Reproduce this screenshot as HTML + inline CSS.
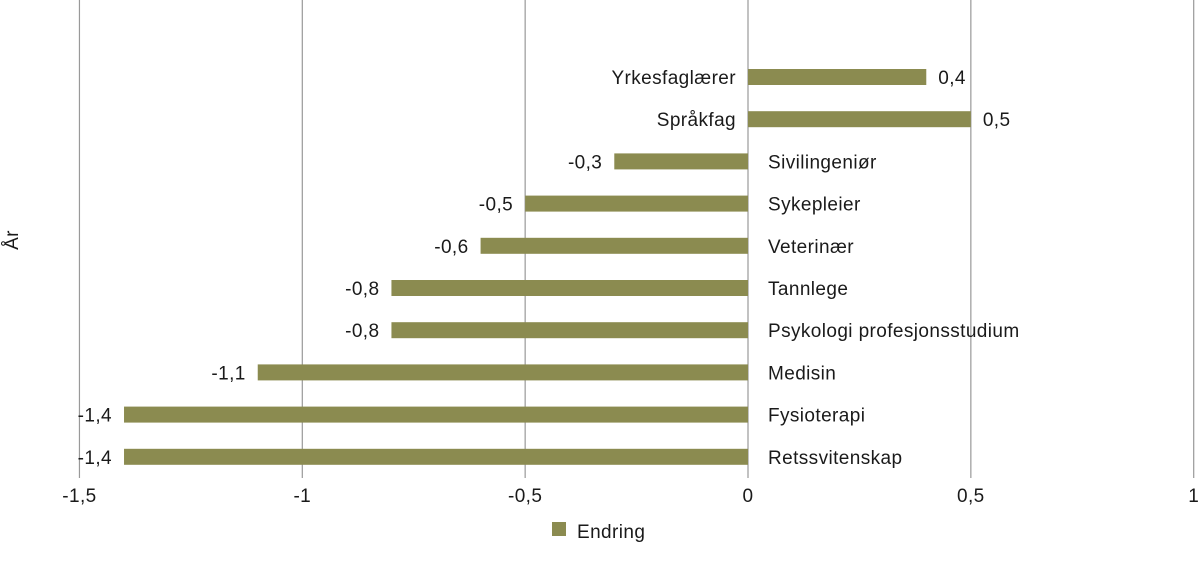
<!DOCTYPE html>
<html><head><meta charset="utf-8"><style>
body{margin:0;background:#fff;}
svg text{font-family:"Liberation Sans",sans-serif;fill:#1a1a1a;letter-spacing:0.4px;}
</style></head><body>
<svg width="1200" height="558" id="chart">
<text x="18" y="240" font-size="19" transform="rotate(-90 18 240)" text-anchor="middle">År</text>
<g id="grid"></g><g id="bars"></g><g id="labels"></g>
<g>
<rect x="552" y="522" width="14" height="14" fill="#8b8b50"/>
<text x="577" y="538" font-size="19">Endring</text>
</g>
</svg>
<script>
const categories=["Yrkesfaglærer","Språkfag","Sivilingeniør","Sykepleier","Veterinær","Tannlege","Psykologi profesjonsstudium","Medisin","Fysioterapi","Retssvitenskap"];
const values=[0.4,0.5,-0.3,-0.5,-0.6,-0.8,-0.8,-1.1,-1.4,-1.4];
const valueLabels=["0,4","0,5","-0,3","-0,5","-0,6","-0,8","-0,8","-1,1","-1,4","-1,4"];
const ticks=[-1.5,-1,-0.5,0,0.5,1];
const tickLabels=["-1,5","-1","-0,5","0","0,5","1"];
const NS="http://www.w3.org/2000/svg";
const x=v=>748+v*445.7;
const y=i=>77+i*42.2;
function mk(t,a,p){const e=document.createElementNS(NS,t);for(const k in a)e.setAttribute(k,a[k]);document.getElementById(p).appendChild(e);return e;}
ticks.forEach((t,i)=>{
 const l=mk('line',{x1:x(t),x2:x(t),y1:0,y2:478,stroke:'#999','stroke-width':1.2},'grid');
 
 
 const tx=mk('text',{x:x(t),y:502,'font-size':19,'text-anchor':'middle'},'grid');
 tx.textContent=tickLabels[i];
 
 
});
values.forEach((v,i)=>{
 const x0=Math.min(x(0),x(v)),w=Math.abs(x(v)-x(0));
 const r=mk('rect',{x:x0,y:y(i)-8,width:w,height:16,fill:'#8b8b50'},'bars');
 
 
 const neg=v<0;
 const c=mk('text',{x:neg?x(0)+20:x(0)-12,y:y(i)+7,'font-size':19,'text-anchor':neg?'start':'end'},'labels');
 c.textContent=categories[i];
 
 
 const vl=mk('text',{x:neg?x(v)-12:x(v)+12,y:y(i)+7,'font-size':19,'text-anchor':neg?'end':'start'},'labels');
 vl.textContent=valueLabels[i];
 
 
});
</script>
</body></html>
